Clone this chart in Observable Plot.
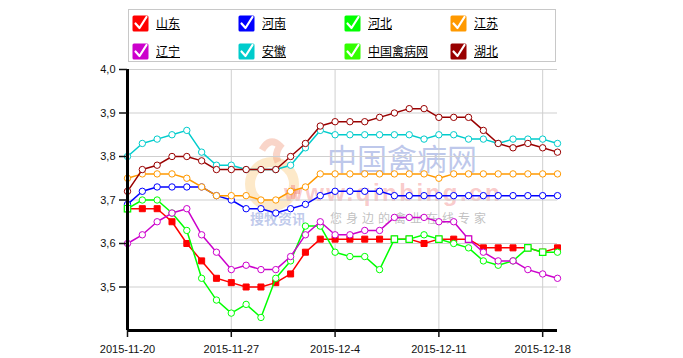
<!DOCTYPE html>
<html>
<head>
<meta charset="utf-8">
<script src="https://cdn.jsdelivr.net/npm/d3@7"></script>
<script src="https://cdn.jsdelivr.net/npm/@observablehq/plot@0.6"></script>
<style>
  body { margin: 0; background: #fff; font-family: "Liberation Sans", Arial, sans-serif; }
  #wrap { position: relative; width: 683px; height: 358px; overflow: hidden; }
  #legend { position: relative; width: 683px; height: 64px; }
  #legbox { position: absolute; left: 128px; top: 9px; width: 428px; height: 53px; border: 1px solid #c8c8c8; box-sizing: border-box; }
  .item { position: absolute; display: flex; align-items: center; height: 18px; }
  .item svg { display: block; }
  .item span { margin-left: 7px; font-family: "Noto Sans CJK SC", sans-serif; font-size: 12px; color: #000; text-decoration: underline; line-height: 14px; }
  #wm { position: absolute; left: 0; top: 0; width: 683px; height: 358px; z-index: 0; pointer-events: none; }
  #chart { position: relative; z-index: 1; }
  .wmt { position: absolute; white-space: nowrap; line-height: 1; }
</style>
</head>
<body>
<div id="wrap">
  <div id="wm">
    <svg width="683" height="358" style="position:absolute;left:0;top:0">
      <circle cx="272" cy="184" r="22" fill="none" stroke="rgba(250,200,120,0.4)" stroke-width="10"></circle>
      <path d="M262 150 q8 -14 18 -4 q-6 8 -2 16" fill="none" stroke="rgba(240,150,120,0.4)" stroke-width="7"></path>
      <path d="M286 192 h14 M293 185 v14" stroke="rgba(240,140,140,0.5)" stroke-width="4"></path>
    </svg>
    <div class="wmt" style="left:327px;top:142px;font-family:'Noto Sans CJK SC';font-size:30px;color:rgba(125,145,215,0.5);">中国禽病网</div>
    <div class="wmt" style="left:284px;top:181px;font-family:'Liberation Sans';font-weight:bold;font-size:24px;letter-spacing:2.5px;color:rgba(240,120,120,0.4);">www.qinbing.cn</div>
    <div class="wmt" style="left:250px;top:211px;font-family:'Noto Sans CJK SC';font-weight:bold;font-size:14px;color:rgba(130,150,215,0.5);">搜牧资讯</div>
    <div class="wmt" style="left:330px;top:212px;font-family:'Noto Sans CJK SC';font-size:12px;letter-spacing:4px;color:rgba(150,150,150,0.6);">您身边的禽业在线专家</div>
  </div>
  <div id="chart">
    <div id="legend"><div id="legbox"></div></div>
  </div>
</div>
<script>
// ---- data ----
const dates = [
  "2015-11-20","2015-11-21","2015-11-22","2015-11-23","2015-11-24","2015-11-25","2015-11-26","2015-11-27",
  "2015-11-28","2015-11-29","2015-11-30","2015-12-01","2015-12-02","2015-12-03","2015-12-04","2015-12-05",
  "2015-12-06","2015-12-07","2015-12-08","2015-12-09","2015-12-10","2015-12-11","2015-12-12","2015-12-13",
  "2015-12-14","2015-12-15","2015-12-16","2015-12-17","2015-12-18","2015-12-19"
];
const seriesNames  = ["山东","河南","河北","江苏","辽宁","安徽","中国禽病网","湖北"];
const seriesColors = ["#ff0000","#0000ff","#00ff00","#ff9900","#cc00cc","#00cccc","#33ff00","#990000"];

const shandong = [3.68,3.68,3.68,3.65,3.60,3.56,3.52,3.51,3.50,3.50,3.51,3.53,3.58,3.61,3.61,3.61,3.61,3.61,3.61,3.61,3.60,3.61,3.61,3.61,3.59,3.59,3.59,3.59,3.58,3.59];
const henan    = [3.69,3.72,3.73,3.73,3.73,3.73,3.71,3.70,3.68,3.68,3.67,3.68,3.69,3.71,3.72,3.72,3.72,3.72,3.71,3.71,3.71,3.71,3.71,3.71,3.71,3.71,3.71,3.71,3.71,3.71];
const hebei    = [3.68,3.70,3.70,3.67,3.63,3.52,3.47,3.44,3.46,3.43,3.52,3.56,3.64,3.64,3.58,3.57,3.57,3.54,3.61,3.61,3.62,3.61,3.60,3.59,3.56,3.55,3.56,3.59,3.58,3.58];
const jiangsu  = [3.75,3.76,3.76,3.76,3.75,3.73,3.71,3.71,3.71,3.70,3.70,3.72,3.73,3.76,3.76,3.76,3.76,3.76,3.76,3.76,3.76,3.75,3.76,3.76,3.76,3.76,3.76,3.76,3.76,3.76];
const liaoning = [3.60,3.62,3.65,3.67,3.68,3.62,3.58,3.54,3.55,3.54,3.54,3.57,3.62,3.65,3.62,3.62,3.63,3.63,3.66,3.66,3.66,3.65,3.65,3.61,3.58,3.56,3.56,3.54,3.53,3.52];
const anhui    = [3.80,3.83,3.84,3.85,3.86,3.81,3.78,3.78,3.77,3.77,3.77,3.78,3.82,3.86,3.85,3.85,3.85,3.85,3.85,3.85,3.84,3.85,3.85,3.84,3.84,3.83,3.84,3.84,3.84,3.83];
const zhongguo = []; // not visible in the chart
const hubei    = [3.72,3.77,3.78,3.80,3.80,3.79,3.77,3.77,3.77,3.77,3.77,3.80,3.83,3.87,3.88,3.88,3.88,3.89,3.90,3.91,3.91,3.89,3.89,3.89,3.86,3.83,3.82,3.83,3.82,3.81];
const seriesValues = [shandong, henan, hebei, jiangsu, liaoning, anhui, zhongguo, hubei];

const yTicks = [3.5, 3.6, 3.7, 3.8, 3.9, 4.0];
const yTickLabels = ["3,5","3,6","3,7","3,8","3,9","4,0"];
const xTickDates = ["2015-11-20","2015-11-27","2015-12-04","2015-12-11","2015-12-18"];
const xTickLabels = ["2015-11-20","2015-11-27","2015-12-4","2015-12-11","2015-12-18"];

// ---- legend ----
const legbox = document.getElementById("legbox");
const colX = [3, 109, 215, 321];
const rowY = [4, 32];
seriesNames.forEach((name, k) => {
  const div = document.createElement("div");
  div.className = "item";
  div.style.left = colX[k % 4] + "px";
  div.style.top = rowY[Math.floor(k / 4)] + "px";
  div.innerHTML = `<svg width="17" height="18" viewBox="0 0 17 18"><rect x="0.5" y="1.5" width="16" height="16" rx="1.5" fill="${seriesColors[k]}"/><path d="M3.5 9.5 L7.5 14 L14.5 3" fill="none" stroke="#fff" stroke-width="2.2" stroke-linecap="round" stroke-linejoin="round"/></svg><span>${name}</span>`;
  legbox.appendChild(div);
});

// ---- chart ----
const parse = d3.utcParse("%Y-%m-%d");
const D = dates.map(parse);
const xT = xTickDates.map(parse);
const xLabelMap = new Map(xT.map((d, i) => [+d, xTickLabels[i]]));

const marks = [
  Plot.gridY(yTicks, {stroke: "#cfcfcf", strokeOpacity: 1}),
  Plot.gridX(xT.slice(1), {stroke: "#cfcfcf", strokeOpacity: 1})
];

seriesNames.forEach((name, k) => {
  const vals = seriesValues[k];
  if (!vals.length) return;
  const rows = vals.map((v, i) => ({date: D[i], value: v, eq: k !== 0 && Math.abs(v - shandong[i]) < 1e-9}));
  const color = seriesColors[k];
  marks.push(Plot.line(rows, {x: "date", y: "value", stroke: color, strokeWidth: 1.5}));
  if (k === 0) {
    marks.push(Plot.dot(rows, {x: "date", y: "value", symbol: "square", r: 3.4, fill: color, stroke: color, strokeWidth: 1}));
  } else {
    marks.push(Plot.dot(rows.filter(d => !d.eq), {x: "date", y: "value", symbol: "circle", r: 3.2, fill: "#fff", stroke: color, strokeWidth: 1}));
    marks.push(Plot.dot(rows.filter(d => d.eq), {x: "date", y: "value", symbol: "square", r: 3.6, fill: "#fff", stroke: color, strokeWidth: 1.2}));
  }
});

marks.push(
  Plot.ruleX([D[0]], {stroke: "#000", strokeWidth: 3}),
  Plot.ruleY([3.4], {stroke: "#000", strokeWidth: 3}),
  Plot.axisY(yTicks, {label: null, tickFormat: d => yTickLabels[yTicks.indexOf(d)], tickSize: 8, tickPadding: 4, fontSize: 11, strokeWidth: 1.5}),
  Plot.axisX(xT, {label: null, tickFormat: d => xLabelMap.get(+d), tickSize: 7, tickPadding: 8, fontSize: 11, strokeWidth: 1.5})
);

const chart = Plot.plot({
  width: 683,
  height: 294,
  marginTop: 5,
  marginBottom: 28,
  marginLeft: 127,
  marginRight: 126,
  x: {type: "utc", domain: [D[0], D[D.length - 1]], label: null},
  y: {domain: [3.4, 4.0], label: null},
  style: {background: "transparent", color: "#111", fontFamily: "'Liberation Sans', Arial, sans-serif", overflow: "visible"},
  marks
});
document.getElementById("chart").appendChild(chart);
</script>
</body>
</html>
